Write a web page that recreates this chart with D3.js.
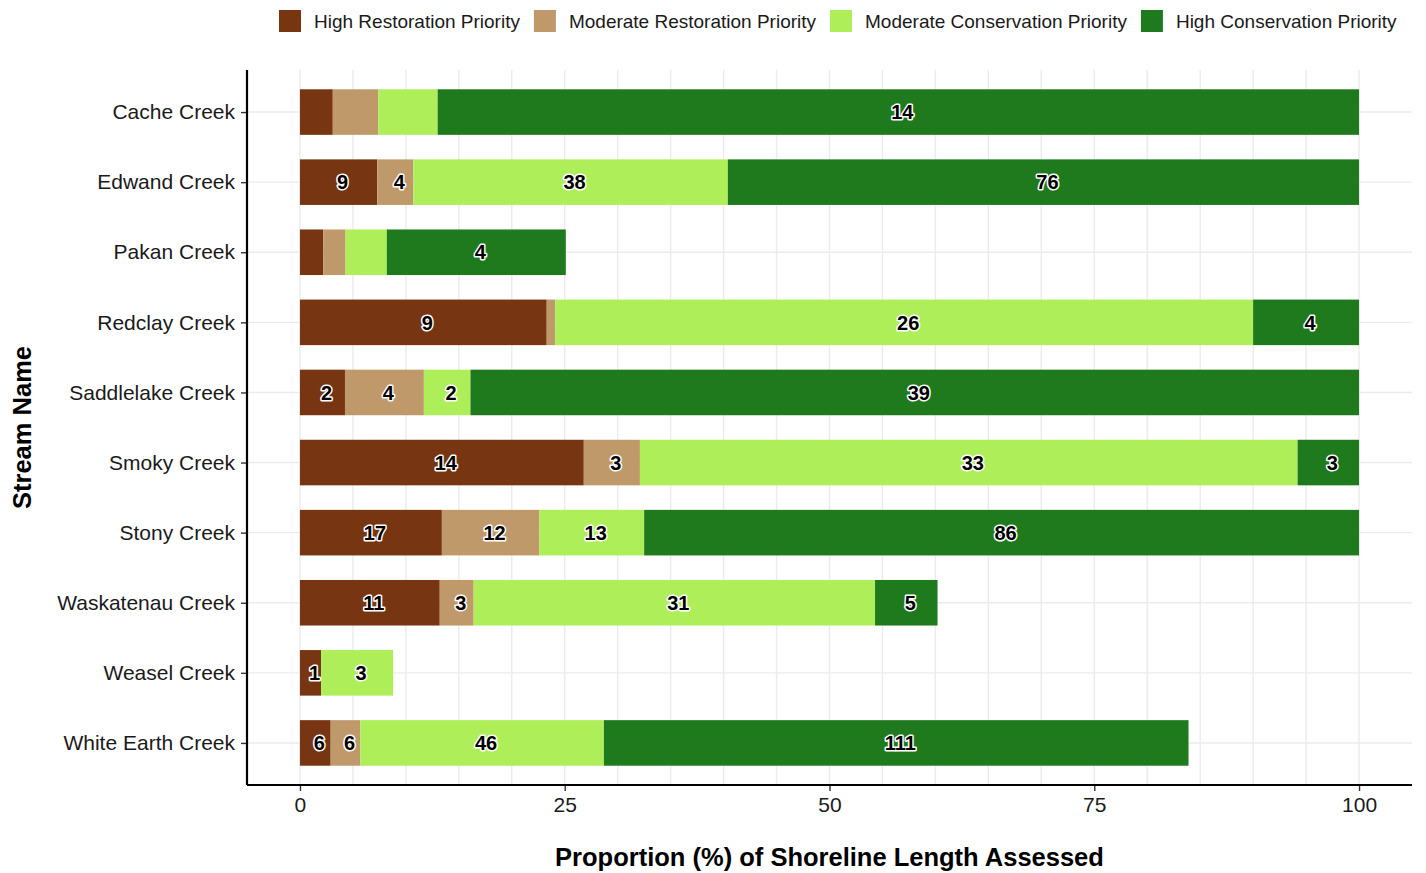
<!DOCTYPE html>
<html><head><meta charset="utf-8">
<script src="https://cdn.jsdelivr.net/npm/d3@7"></script>
<style>body{margin:0;background:#fff}svg{display:block}</style>
</head><body>
<script>
const streams = ["Cache Creek","Edwand Creek","Pakan Creek","Redclay Creek","Saddlelake Creek","Smoky Creek","Stony Creek","Waskatenau Creek","Weasel Creek","White Earth Creek"];
const categories = ["High Restoration Priority","Moderate Restoration Priority","Moderate Conservation Priority","High Conservation Priority"];
const colors = ["#773512","#c0996b","#aeee58","#1f7a1e"];
// proportions (%) per category, in stream order
const highRestoration     = [3.1, 7.3, 2.2, 23.3, 4.25, 26.8, 13.4, 13.2, 2.0, 2.9];
const moderateRestoration = [4.3, 3.4, 2.1, 0.8, 7.45, 5.3, 9.2, 3.2, 0, 2.8];
const moderateConservation= [5.6, 29.7, 3.9, 65.9, 4.4, 62.1, 9.9, 37.9, 6.8, 23.0];
const highConservation    = [87.0, 59.6, 16.9, 10.0, 83.9, 5.8, 67.5, 5.9, 0, 55.2];
// count labels (null = no label)
const labHR = [null, 9, null, 9, 2, 14, 17, 11, 1, 6];
const labMR = [null, 4, null, null, 4, 3, 12, 3, null, 6];
const labMC = [null, 38, null, 26, 2, 33, 13, 31, 3, 46];
const labHC = [14, 76, 4, 4, 39, 3, 86, 5, null, 111];
const xTicks = [0,25,50,75,100];
const xGrid = d3.range(0,101,5);

const series = [highRestoration, moderateRestoration, moderateConservation, highConservation];
const labels = [labHR, labMR, labMC, labHC];

const W=1426, H=873;
const svg = d3.select("body").append("svg").attr("width",W).attr("height",H);
const pL=247, pR=1412, pT=70, pB=785;
const x = d3.scaleLinear().domain([-5,105]).range([pL,pR]);
const n = streams.length;
const step = (pB-pT)/(n-1+1.2);
const y = d3.scalePoint().domain(streams).range([pT+0.6*step, pB-0.6*step]);
const bh = step*0.65;
const font = "'Liberation Sans', Arial, Helvetica, sans-serif";

// grid
svg.append("g").selectAll("line").data(xGrid).join("line")
  .attr("x1",d=>x(d)).attr("x2",d=>x(d)).attr("y1",pT).attr("y2",pB)
  .attr("stroke","#ebebeb").attr("stroke-width",1.4);
svg.append("g").selectAll("line").data(streams).join("line")
  .attr("x1",pL).attr("x2",pR).attr("y1",d=>y(d)).attr("y2",d=>y(d))
  .attr("stroke","#ebebeb").attr("stroke-width",1.4);

// stacked data
const stacked = streams.map((s,i)=>{
  let acc=0;
  return series.map((arr,k)=>{ const v0=acc; acc+=arr[i]; return {s, k, v0, v1:acc, lab:labels[k][i]}; });
}).flat();

svg.append("g").selectAll("rect").data(stacked.filter(d=>d.v1>d.v0)).join("rect")
  .attr("x",d=>x(d.v0)).attr("width",d=>x(d.v1)-x(d.v0))
  .attr("y",d=>y(d.s)-bh/2).attr("height",bh)
  .attr("fill",d=>colors[d.k]);

svg.append("g").selectAll("text").data(stacked.filter(d=>d.lab!=null)).join("text")
  .attr("x",d=>x((d.v0+d.v1)/2)+4).attr("y",d=>y(d.s)).attr("dy","0.36em")
  .attr("text-anchor","middle").attr("font-family",font).attr("font-weight","bold")
  .attr("font-size",20).attr("fill","#000")
  .attr("stroke","#fff").attr("stroke-width",3).attr("paint-order","stroke").attr("stroke-linejoin","round")
  .text(d=>d.lab);

// axes
const xa = svg.append("g").attr("transform",`translate(0,${pB})`)
  .call(d3.axisBottom(x).tickValues(xTicks).tickSize(6).tickSizeOuter(0).tickPadding(6));
const ya = svg.append("g").attr("transform",`translate(${pL},0)`)
  .call(d3.axisLeft(y).tickSize(6).tickSizeOuter(0).tickPadding(6));
[xa,ya].forEach(a=>{
  a.select(".domain").remove();
  a.selectAll(".tick line").attr("stroke","#333").attr("stroke-width",1.4);
  a.selectAll(".tick text").attr("font-family",font).attr("font-size",21).attr("fill","#1a1a1a");
});
xa.selectAll(".tick text").attr("dy","0.72em");
svg.append("line").attr("x1",pL).attr("x2",pR).attr("y1",pB).attr("y2",pB).attr("stroke","#000").attr("stroke-width",2.2);
svg.append("line").attr("x1",pL).attr("x2",pL).attr("y1",pT).attr("y2",pB).attr("stroke","#000").attr("stroke-width",2.2);

// titles
svg.append("text").attr("x",(pL+pR)/2).attr("y",866).attr("text-anchor","middle")
  .attr("font-family",font).attr("font-weight","bold").attr("font-size",25.5).attr("fill","#000")
  .text("Proportion (%) of Shoreline Length Assessed");
svg.append("text").attr("transform",`translate(31,${(pT+pB)/2}) rotate(-90)`).attr("text-anchor","middle")
  .attr("font-family",font).attr("font-weight","bold").attr("font-size",25.5).attr("fill","#000")
  .text("Stream Name");

// legend
const lg = svg.append("g");
let lx = 279;
categories.forEach((c,k)=>{
  lg.append("rect").attr("x",lx).attr("y",10).attr("width",22).attr("height",22).attr("fill",colors[k]);
  const t = lg.append("text").attr("x",lx+35).attr("y",21).attr("dy","0.36em")
    .attr("font-family",font).attr("font-size",19).attr("fill","#1a1a1a").text(c);
  lx += 35 + t.node().getComputedTextLength() + 14;
});
</script>
</body></html>
